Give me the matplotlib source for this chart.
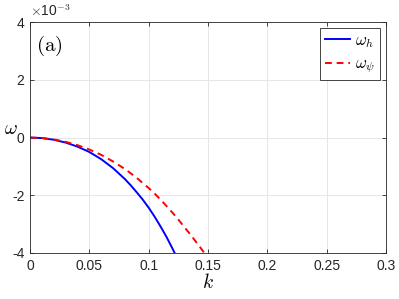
import numpy as np
import matplotlib
matplotlib.use("Agg")
import matplotlib.pyplot as plt

plt.rcParams['font.family'] = ['Liberation Sans', 'DejaVu Sans']
plt.rcParams['mathtext.fontset'] = 'cm'
plt.rcParams['axes.unicode_minus'] = False

# Data (omega in units of 1e-3)
k_h = [0.0, 0.01, 0.02, 0.03, 0.04, 0.05, 0.06, 0.07, 0.08, 0.085, 0.09, 0.095,
       0.10, 0.105, 0.11, 0.115, 0.12, 0.125]
omega_h = [0.0, -0.019, -0.076, -0.174, -0.315, -0.50, -0.75, -1.06, -1.44, -1.66, -1.90, -2.15,
           -2.43, -2.74, -3.08, -3.44, -3.84, -4.26]

k_psi = [0.0, 0.01, 0.02, 0.03, 0.04, 0.05, 0.06, 0.07, 0.08, 0.09, 0.10, 0.105, 0.11,
         0.115, 0.12, 0.125, 0.13, 0.135, 0.14, 0.145, 0.15]
omega_psi = [0.0, -0.016, -0.066, -0.148, -0.264, -0.415, -0.60, -0.83, -1.09, -1.40, -1.75, -1.94, -2.15,
             -2.37, -2.60, -2.84, -3.10, -3.35, -3.62, -3.89, -4.17]

xticks = [0, 0.05, 0.1, 0.15, 0.2, 0.25, 0.3]
xticklabels = ['0', '0.05', '0.1', '0.15', '0.2', '0.25', '0.3']
yticks = [-4, -2, 0, 2, 4]

fig = plt.figure(figsize=(3.99, 2.99), dpi=100)
ax = fig.add_axes([0.0752, 0.154, 0.892, 0.772])

ax.plot(k_h, omega_h, color='#0000ff', lw=1.4, label=r'$\omega_h$')
ax.plot(k_psi, omega_psi, color='#ff0000', lw=1.4, ls=(0, (3.5, 2.5)), label=r'$\omega_\psi$')

ax.set_xlim(0, 0.3)
ax.set_ylim(-4, 4)
ax.set_xticks(xticks)
ax.set_xticklabels(xticklabels)
ax.set_yticks(yticks)
ax.set_yticklabels([str(v) for v in yticks])

ax.grid(True, color='#e6e6e6', lw=0.7)
ax.set_axisbelow(True)
for s in ax.spines.values():
    s.set_color('#262626')
    s.set_linewidth(0.6)
ax.tick_params(direction='in', length=3, width=0.6, colors='#262626',
               labelsize=10, top=True, right=True, pad=4)

ax.set_xlabel(r'$k$', fontsize=14, labelpad=0)
ax.set_ylabel(r'$\omega$', fontsize=14, rotation=0, labelpad=6)
ax.yaxis.set_label_coords(-0.055, 0.5)

ax.text(0.0, 1.012, r'$\times$10$^{-3}$', transform=ax.transAxes, fontsize=10,
        ha='left', va='bottom', color='#262626')
ax.text(0.018, 0.95, r'$\mathrm{(a)}$', transform=ax.transAxes, fontsize=15,
        ha='left', va='top')

leg = ax.legend(loc='upper right', fontsize=12, fancybox=False, framealpha=1,
                edgecolor='#262626', handlelength=1.5, handletextpad=0.3,
                borderpad=0.3, labelspacing=0.4, borderaxespad=0.35)
leg.get_frame().set_linewidth(0.6)

fig.savefig('out.png', dpi=100)
